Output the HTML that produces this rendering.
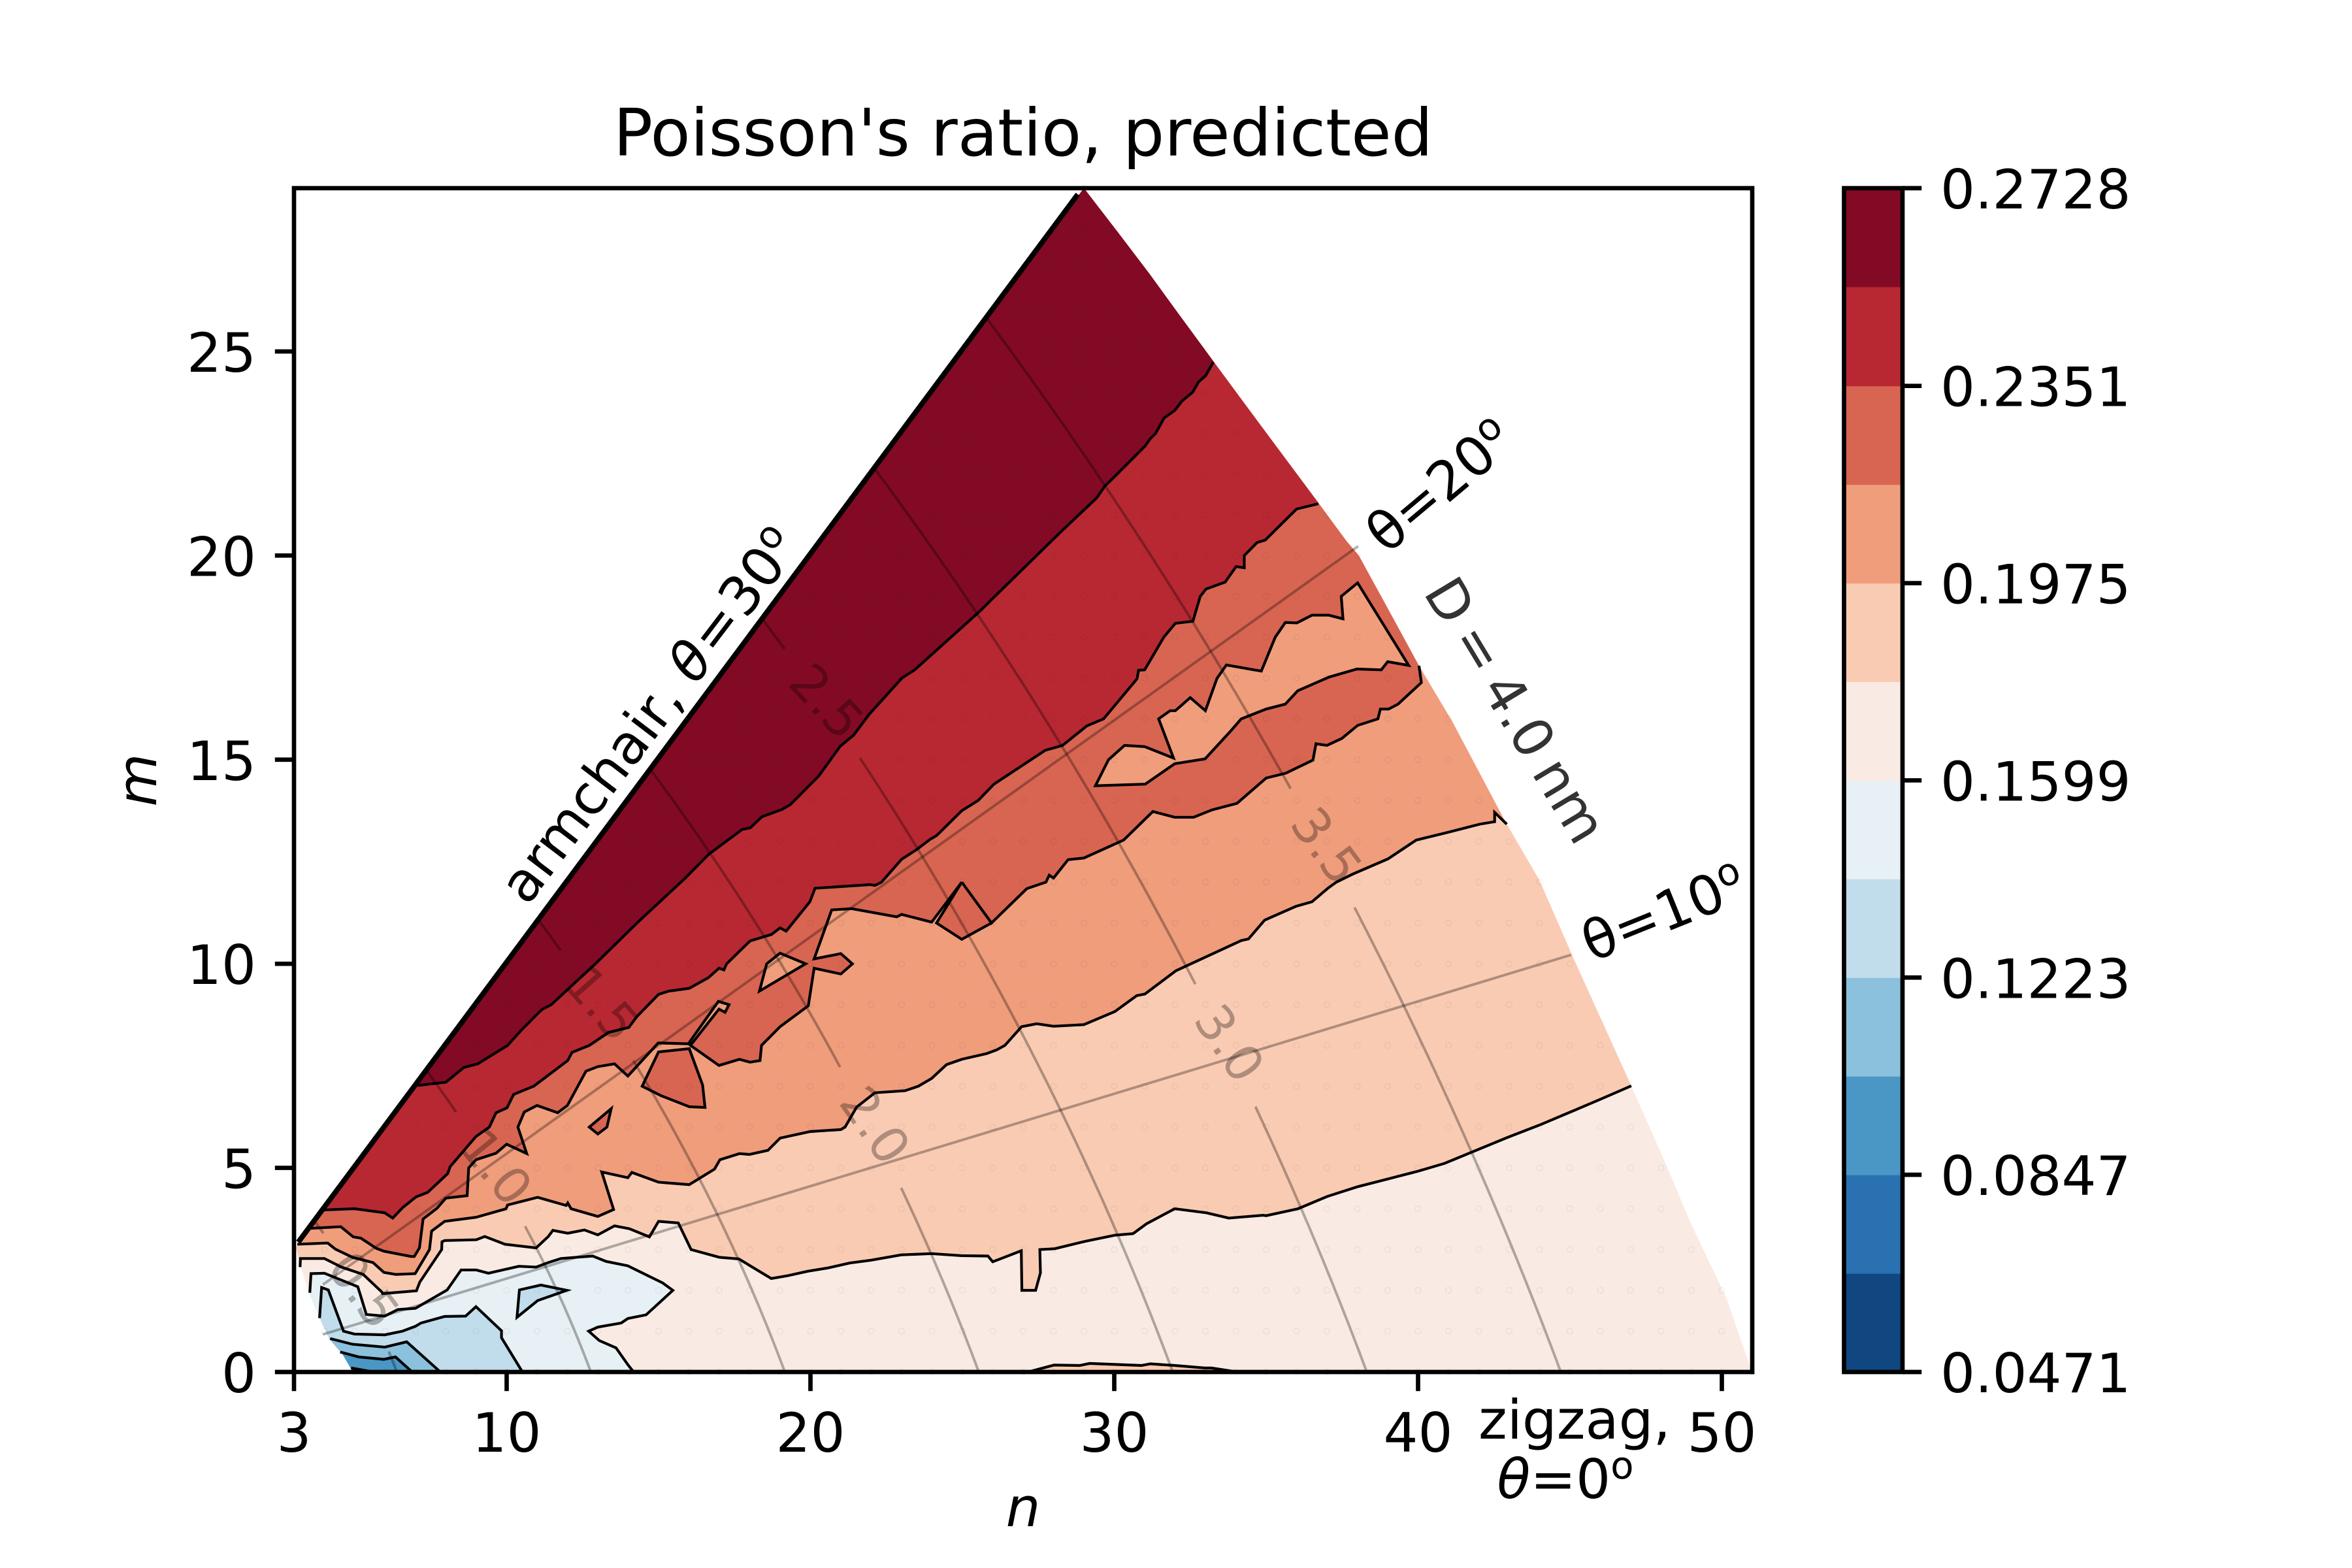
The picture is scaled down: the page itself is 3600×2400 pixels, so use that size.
<!DOCTYPE html>
<html lang="en">
<head>
<meta charset="utf-8">
<title>Poisson's ratio, predicted</title>
<style>
html,body{margin:0;padding:0;background:#fff;width:3600px;height:2400px;overflow:hidden}
svg{display:block}
text{font-family:"DejaVu Sans","Liberation Sans",sans-serif;font-size:83.33px;fill:#000}
</style>
</head>
<body>
<svg id="chart" xmlns="http://www.w3.org/2000/svg" width="3600" height="2400" viewBox="0 0 3600 2400">
<defs><clipPath id="domain-clip"><polygon id="domain-clip-shape"></polygon></clipPath></defs>
<g id="fills" clip-path="url(#domain-clip)"></g>
<g id="lines"></g>
<g id="grid"></g>
<g id="guides"></g>
<g id="axes"></g>
<g id="cbar"></g>
<text x="1566" y="238" text-anchor="middle" style="font-size:100px">Poisson's ratio, predicted</text>
<text x="1566" y="2336" text-anchor="middle" font-style="italic">n</text>
<text transform="translate(239 1194) rotate(-90)" text-anchor="middle" font-style="italic">m</text>
<text transform="translate(807 1388) rotate(-52.7)">armchair, <tspan font-style="italic">θ</tspan><tspan dx="3">=</tspan><tspan dx="3">30</tspan><tspan dy="-30" style="font-size:58px">o</tspan></text>
<text transform="translate(2122 850) rotate(-40)">θ=20<tspan dy="-30" style="font-size:58px">o</tspan></text>
<text transform="translate(2436 1473) rotate(-22)">θ=10<tspan dy="-30" style="font-size:58px">o</tspan></text>
<text transform="translate(2295 1102) rotate(59)" text-anchor="middle" fill-opacity="0.8" style="word-spacing:-8px">D = 4.0 nm</text>
<text x="2410" y="2202" text-anchor="middle">zigzag,</text>
<text x="2396" y="2293" text-anchor="middle"><tspan font-style="italic">θ</tspan>=0<tspan dy="-30" style="font-size:58px">o</tspan></text>
</svg>
<script>
// ---- axis ticks ----
const xTicks = [3, 10, 20, 30, 40, 50];
const yTicks = [0, 5, 10, 15, 20, 25];
const xLimits = [3, 51];
const yLimits = [0, 29];
// ---- colour bands (low to high) ----
const bandColors = ['#104780','#2a71b2','#4a97c5','#8bc1dc','#c1ddeb','#e7f0f4','#f9ebe3','#facbb3','#f09d7c','#d86551','#b82832','#830a25'];
const bandEdges = [0.0471,0.0659,0.0847,0.1035,0.1223,0.1411,0.1599,0.1787,0.1975,0.2163,0.2351,0.2540,0.2728];
const cbarTicks = [0.0471,0.0847,0.1223,0.1599,0.1975,0.2351,0.2728];
const cbarTickLabels = ['0.0471','0.0847','0.1223','0.1599','0.1975','0.2351','0.2728'];
// ---- domain outline, in (n, m) ----
const domainOuterEdge = [[29,29],[30.13,27.91],[31.18,26.88],[32.05,25.99],[33.26,24.76],[34.96,23.05],[36.6,21.41],[37.65,20.35],[38.05,20],[39.08,18.6],[40.03,17.3],[41.13,15.93],[42.86,13.5],[44,12.04],[45.15,10.08],[47.02,7.01],[48.06,5.26],[48.99,3.63],[50.15,1.81],[50.92,0.16],[51,0]];
const domainInnerEdge = [[4.94,0],[4.6,0.43],[4.16,0.81],[3.84,1.32],[3.48,1.96],[3.2,2.63],[3.07,3.05]];
const armchairEdge = [[3.14,3.18],[28.8,28.85]];
// ---- contours, in (n, m) ----
const contour1to2 = [[7.07,7.02],[8,7.1],[8.59,7.46],[9.05,7.55],[10.03,8],[10.45,8.35],[11.05,8.8],[11.16,8.88],[11.47,9],[12.92,10],[14.29,11],[15.88,12.1],[16.65,12.68],[17.75,13.29],[18.02,13.33],[18.4,13.6],[19.06,13.78],[19.34,13.9],[20.27,14.6],[20.98,15.33],[21.42,15.6],[21.92,16.1],[23.01,17],[23.43,17.2],[25.58,18.64],[25.96,18.92],[28.21,20.56],[29.42,21.41],[29.69,21.7],[30.02,21.94],[31.01,22.68],[31.18,22.86],[31.36,22.99],[31.64,23.37],[32,23.56],[32.22,23.78],[32.58,24],[32.77,24.25],[33.01,24.41],[33.26,24.74]];
const contour2to3 = [[4,3.97],[4.99,4],[5.98,3.9],[6.25,3.77],[6.58,4.03],[7.02,4.29],[7.4,4.4],[8.06,4.86],[8.14,5.03],[8.99,5.77],[9.43,6],[9.65,6.35],[10.01,6.47],[10.23,6.8],[10.89,7],[12.01,7.63],[12.15,7.83],[12.72,8],[13.36,8.32],[14.02,8.44],[14.29,8.71],[15,9.25],[15.33,9.33],[16.01,9.4],[16.64,9.66],[16.99,9.89],[17.15,9.85],[17.24,10],[18.01,10.56],[18.72,10.72],[19,10.88],[19.2,10.8],[19.98,11.52],[20.15,11.85],[21.96,11.94],[22.12,11.92],[22.34,12],[23,12.56],[23.5,12.8],[23.94,13.05],[24.15,13.14],[24.98,13.75],[25.52,14],[26.04,14.4],[27.73,15.23],[28.3,15.35],[29.1,15.83],[29.65,16],[30.75,16.98],[30.8,17.19],[31,17.2],[31.63,18],[32.01,18.34],[32.59,18.39],[32.83,19],[33.02,19.18],[33.65,19.35],[34.01,19.73],[34.28,19.7],[34.28,20],[34.7,20.32],[34.97,20.38],[36,21.14],[36.72,21.27]];
const contour3to4 = [[3.56,3.52],[4.54,3.56],[4.95,3.31],[5.2,3.28],[5.71,3.03],[5.96,2.96],[6.85,2.83],[6.96,2.83],[7.13,3.04],[7.25,3.75],[7.71,4.01],[8,4.26],[8.7,4.32],[8.75,5],[8.99,5.2],[9.65,5.36],[10,5.58],[10.66,5.35],[10.37,6],[10.58,6.37],[11,6.53],[11.68,6.35],[12,6.53],[12.61,7.37],[13,7.48],[13.55,7.55],[13.99,7.25],[14.99,8.06],[15.98,8.04],[16.97,9.08],[17.32,9],[17.19,8.81],[16.99,8.89],[16.05,8],[16.99,7.51],[17.66,7.66],[18.01,7.59],[18.34,7.63],[18.39,8],[19,8.46],[19.93,8.97],[20.12,9.89],[21,9.75],[21.38,10],[21,10.25],[20.12,10.12],[20.7,11.32],[21.36,11.35],[22.84,11.15],[23,11.21],[23.99,11.02],[24.98,12],[24.15,11],[24.98,10.6],[25.96,11],[24.98,12],[25.96,11],[27.12,11.84],[27.75,12],[27.86,12.17],[28,12.1],[28.48,12.55],[29,12.59],[30.31,13.03],[31.27,13.73],[31.99,13.59],[32.61,13.59],[33.22,13.77],[34.04,13.93],[35,14.55],[35.65,14.67],[36.54,14.99],[36.64,15.39],[37,15.35],[37.49,15.52],[38.01,15.84],[38.68,16],[38.76,16.24],[39.03,16.24],[39.34,16.36],[40.11,16.89],[40.03,17.3]];
const contour4to5 = [[3.11,3.13],[4.11,3.16],[4.36,3.01],[4.92,2.81],[5.6,2.68],[5.96,2.44],[6.35,2.39],[6.99,2.41],[7.46,3],[7.53,3.45],[7.96,3.69],[8.99,3.79],[9.94,3.99],[9.98,4],[10.03,4.09],[11.02,4.28],[11.96,4.08],[12.01,4.14],[12.12,4],[13,3.81],[13.52,3.98],[13.13,4.9],[13.99,4.76],[14.12,4.89],[15,4.65],[16.01,4.59],[16.84,4.97],[17.02,5.2],[17.66,5.35],[17.99,5.33],[18.6,5.43],[19,5.73],[19.99,5.89],[21,5.94],[21.14,6],[21.52,6.49],[22.12,6.84],[23.11,6.89],[23.55,7],[23.99,7.19],[24.48,7.53],[24.98,7.66],[25.8,7.8],[26.13,7.89],[26.4,8],[26.95,8.46],[27.45,8.53],[28,8.47],[29,8.51],[30.02,8.83],[30.74,9.22],[31.01,9.26],[32.03,9.83],[34.18,10.57],[34.42,10.61],[34.95,11.07],[35.99,11.41],[36.51,11.52],[37.03,11.85],[37.31,12],[37.86,12.2],[39.01,12.57],[39.94,13.03],[40.98,13.22],[42.03,13.42],[42.52,13.48],[42.52,13.71],[42.92,13.42]];
const contour5to6 = [[3.2,2.57],[3.21,2.78],[4,2.78],[4.56,2.57],[5.28,2.39],[5.89,1.96],[5.92,1.92],[7.03,1.99],[7.14,2.2],[7.86,3],[7.87,3.19],[7.96,3.22],[9,3.24],[9.28,3.32],[9.94,3.13],[10.97,3.04],[11.37,3.32],[11.52,3.47],[12.01,3.4],[12.56,3.48],[13,3.36],[13.55,3.58],[14.04,3.51],[14.7,3.31],[15,3.69],[15.65,3.65],[16.07,3],[17,2.81],[17.64,2.77],[18.71,2.29],[19.26,2.36],[19.92,2.47],[20.58,2.55],[21.29,2.67],[22,2.74],[22.99,2.87],[23.98,2.9],[24.97,2.85],[25.84,2.84],[26,2.7],[26.94,2.97],[26.96,2],[27.41,2],[27.57,2.43],[27.55,3],[28.04,3.02],[29.03,3.2],[30.01,3.35],[30.62,3.39],[31.06,3.63],[31.99,4],[33.03,3.9],[33.77,3.77],[34.9,3.84],[35,3.83],[36.05,4],[37.01,4.3],[38.02,4.54],[39.01,4.73],[40,4.92],[40.87,5.11],[41.75,5.38],[42.96,5.75],[44,6.05],[44.99,6.36],[46.03,6.69],[47.02,7.01]];
const contour6to7 = [[3.52,1.94],[3.56,2.41],[4,2.42],[5.1,2.09],[5.2,1.85],[5.38,1.41],[5.99,1.37],[6.42,1.53],[7,1.56],[8.04,2.01],[8.5,2.5],[9,2.5],[9.4,2.42],[10.4,2.59],[10.97,2.57],[11.37,2.68],[11.79,2.78],[12.83,2.84],[13.27,2.71],[13.99,2.6],[15.14,2.18],[15.47,2],[14.59,1.4],[13.99,1.31],[13.77,1.2],[13,1.1],[12.7,1],[13.05,0.77],[13.6,0.59],[13.99,0.18],[14.18,0]];
const contour7to8 = [[3.84,1.32],[3.91,2.07],[4.13,2.01],[4.63,1],[4.99,0.93],[5.99,0.91],[6.57,1],[7,1.12],[7.18,1.2],[7.96,1.36],[8.65,1.37],[8.99,1.6],[9.83,1.01],[9.83,0.84],[10.52,0]];
const contour8to9 = [[4.19,0.82],[4.92,0.68],[5.99,0.61],[6.71,0.74],[7.82,0]];
const contour9to10 = [[4.52,0.49],[5.13,0.37],[5.96,0.31],[6.34,0.37],[6.89,0]];
const contour10to11 = [[4.88,0.1],[5.63,0]];
// ---- closed islands, in (n, m) ----
const islandBottomBand5 = [[27.16,0],[28.02,0.17],[28.86,0.16],[29.19,0.21],[30.89,0.16],[31.19,0.2],[31.99,0.16],[32.98,0.1],[33.2,0.1],[34.07,0]];
const islandLeftBand3 = [[15,7.84],[16.01,7.92],[16.45,7.03],[16.53,6.48],[16.01,6.5],[15.08,6.77],[14.46,7]];
const islandTinyBand3 = [[13.44,6.45],[13.3,6],[13,5.83],[12.72,6]];
const islandHoleBand4 = [[19,10.26],[18.56,10],[18.32,9.33],[19.84,10]];
const islandFingerBand4 = [[39.69,17.31],[39,17.4],[38.79,17.2],[37.99,17.22],[37.06,17.02],[36.04,16.69],[35.63,16.36],[35,16.24],[34.18,16],[33.82,15.69],[32.99,15.02],[31.99,14.9],[31.02,14.4],[29.38,14.36],[29.81,15],[30.34,15.35],[31,15.32],[31.95,15.04],[31.46,16],[31.84,16.2],[32.01,16.2],[32.5,16.52],[33,16.2],[33.38,16.99],[33.69,17.32],[34.84,17.17],[35.3,18],[35.63,18.36],[36.01,18.35],[36.51,18.54],[37.06,18.54],[37.53,18.45],[37.47,19],[38.01,19.33]];
const islandBlueBand8 = [[10.42,2.01],[11.13,2.13],[11.98,2],[11.02,1.75],[10.34,1.34]];
// ---- nanotube grid rows: first and last n for each m = 0..29 ----
const gridFirstN = [5,4,4,4,4,5,6,7,8,9,10,11,12,13,14,15,16,17,18,19,20,21,22,23,24,25,26,27,28,29];
const gridLastN = [51,50,50,49,48,48,47,46,46,45,45,44,44,43,42,41,41,40,39,38,38,37,35,35,34,33,32,31,30,29];
// ---- guides ----
const diameters = [0.5,1,1.5,2,2.5,3,3.5];
const diameterLabels = ['0.5','1.0','1.5','2.0','2.5','3.0','3.5'];
const labelGapTopM = [3.4,6.37,10.33,7.47,17.71,9.5,14.29];
const labelGapBottomM = [0.5,3.57,7.63,4.51,15.04,6.5,11.38];
const thetaLine20 = [[3.95,2.14],[38.03,20.23]];
const thetaLine10 = [[3.95,0.92],[45.04,10.22]];
const latticeConstant = 0.246;

const SVGNS = 'http://www.w3.org/2000/svg';
const AX = {left:450,right:2682,top:288,bottom:2100};
const xAxis = n => AX.left + (n - xLimits[0]) / (xLimits[1] - xLimits[0]) * (AX.right - AX.left);
const yAxis = m => AX.bottom - (m - yLimits[0]) / (yLimits[1] - yLimits[0]) * (AX.bottom - AX.top);
const cbarY = v => AX.bottom - (v - bandEdges[0]) / (bandEdges[bandEdges.length-1] - bandEdges[0]) * (AX.bottom - AX.top);
const toPoints = pts => pts.map(p => xAxis(p[0]).toFixed(1) + ',' + yAxis(p[1]).toFixed(1)).join(' ');
function make(tag, parent, attrs){
  const el = document.createElementNS(SVGNS, tag);
  for (const k in attrs) el.setAttribute(k, attrs[k]);
  parent.appendChild(el);
  return el;
}
const fills = document.getElementById('fills');
const linesG = document.getElementById('lines');
const gridG = document.getElementById('grid');
const guidesG = document.getElementById('guides');
const axesG = document.getElementById('axes');
const cbarG = document.getElementById('cbar');

// domain
const domainPts = domainOuterEdge.concat(domainInnerEdge);
document.getElementById('domain-clip-shape').setAttribute('points', toPoints(domainPts));
const base = make('polygon', fills, {points: toPoints(domainPts), fill: bandColors[6]});



function bandAbove(pts, color){
  const first = pts[0];
  const closed = pts.concat([[60,40],[-5,40],[-5,first[1]]]);
  const el = make('polygon', fills, {points: toPoints(closed), fill: color});
  
  
}
function bandBelow(pts, color){
  const first = pts[0], last = pts[pts.length-1];
  const closed = pts.concat([[last[0],-1],[-5,-1],[-5,first[1]]]);
  const el = make('polygon', fills, {points: toPoints(closed), fill: color});
  
  
}
function island(pts, color){
  const el = make('polygon', fills, {points: toPoints(pts), fill: color});
  
  
}
function contourLine(pts, closed, width){
  const el = make(closed ? 'polygon' : 'polyline', linesG, {points: toPoints(pts), fill: 'none', stroke: '#000', 'stroke-width': width || 4.17, 'stroke-linejoin': 'miter', 'stroke-miterlimit': 6});
  
  
}
bandAbove(contour5to6, bandColors[7]);
island(islandBottomBand5, bandColors[7]);
bandAbove(contour4to5, bandColors[8]);
bandAbove(contour3to4, bandColors[9]);
bandAbove(contour2to3, bandColors[10]);
bandAbove(contour1to2, bandColors[11]);
bandBelow(contour6to7, bandColors[5]);
bandBelow(contour7to8, bandColors[4]);
bandBelow(contour8to9, bandColors[3]);
bandBelow(contour9to10, bandColors[2]);
bandBelow(contour10to11, bandColors[1]);
island(islandLeftBand3, bandColors[9]);
island(islandTinyBand3, bandColors[9]);
island(islandHoleBand4, bandColors[8]);
island(islandFingerBand4, bandColors[8]);
island(islandBlueBand8, bandColors[4]);

[contour1to2,contour2to3,contour3to4,contour4to5,contour5to6,contour6to7,contour7to8,contour8to9,contour9to10,contour10to11,islandBottomBand5].forEach(c => contourLine(c, false));
[islandLeftBand3,islandTinyBand3,islandHoleBand4,islandFingerBand4,islandBlueBand8].forEach(c => contourLine(c, true));
contourLine(armchairEdge, false, 8);

// grid points
gridFirstN.forEach((firstN, m) => {
  for (let n = firstN; n <= gridLastN[m]; n++) {
    const c = make('circle', gridG, {cx: xAxis(n).toFixed(1), cy: yAxis(m).toFixed(1), r: 4.4, fill: 'none', stroke: '#000', 'stroke-opacity': 0.07, 'stroke-width': 1.1});
    
    
  }
});

// constant-diameter guides
function diameterRadius(d){ return Math.PI * d / latticeConstant; }
function nOnDiameter(r, m){ return (-m + Math.sqrt(4*r*r - 3*m*m)) / 2; }
function diameterSegment(r, mFrom, mTo){
  const pts = [];
  const steps = 40;
  for (let i = 0; i <= steps; i++) {
    const m = mFrom + (mTo - mFrom) * i / steps;
    pts.push([nOnDiameter(r, m), m]);
  }
  return pts;
}
function guideLine(pts, name){
  const el = make('polyline', guidesG, {points: toPoints(pts), fill: 'none', stroke: '#000', 'stroke-opacity': 0.3, 'stroke-width': 4});
  
  
}
diameters.forEach((d, i) => {
  const r = diameterRadius(d);
  guideLine(diameterSegment(r, r / Math.sqrt(3), labelGapTopM[i]), 'diameter-line');
  guideLine(diameterSegment(r, labelGapBottomM[i], 0), 'diameter-line');
  const mTop = labelGapTopM[i], mBot = labelGapBottomM[i];
  const mMid = (mTop + mBot) / 2;
  const nMid = nOnDiameter(r, mMid);
  const dx = xAxis(nOnDiameter(r, mBot)) - xAxis(nOnDiameter(r, mTop));
  const dy = yAxis(mBot) - yAxis(mTop);
  const angle = Math.atan2(dy, dx) * 180 / Math.PI - 8;
  const t = make('text', guidesG, {transform: 'translate(' + (xAxis(nMid) + 6).toFixed(1) + ' ' + (yAxis(mMid) - 4).toFixed(1) + ') rotate(' + angle.toFixed(1) + ')', 'text-anchor': 'middle', y: 28, 'fill-opacity': 0.3, style: 'font-size:77px'});
  t.textContent = diameterLabels[i];
  
  
});
guideLine(thetaLine20, 'theta-20-line');
guideLine(thetaLine10, 'theta-10-line');

// axes
const spine = make('rect', axesG, {x: AX.left, y: AX.top, width: AX.right - AX.left, height: AX.bottom - AX.top, fill: 'none', stroke: '#000', 'stroke-width': 6.67});


xTicks.forEach(v => {
  const x = xAxis(v);
  const tick = make('line', axesG, {x1: x, x2: x, y1: AX.bottom, y2: AX.bottom + 29.2, stroke: '#000', 'stroke-width': 6.67});
  
  
  const lab = make('text', axesG, {x: x, y: 2222, 'text-anchor': 'middle'});
  lab.textContent = v;
  
  
});
yTicks.forEach(v => {
  const y = yAxis(v);
  const tick = make('line', axesG, {x1: AX.left - 29.2, x2: AX.left, y1: y, y2: y, stroke: '#000', 'stroke-width': 6.67});
  
  
  const lab = make('text', axesG, {x: 392, y: y + 31, 'text-anchor': 'end'});
  lab.textContent = v;
  
  
});

// colorbar
const CB = {left: 2822.5, right: 2912};
bandColors.forEach((color, i) => {
  const top = cbarY(bandEdges[i+1]), bot = cbarY(bandEdges[i]);
  const seg = make('rect', cbarG, {x: CB.left, y: top.toFixed(1), width: CB.right - CB.left, height: (bot - top + 0.6).toFixed(1), fill: color});
  
  
});
const cbFrame = make('rect', cbarG, {x: CB.left, y: AX.top, width: CB.right - CB.left, height: AX.bottom - AX.top, fill: 'none', stroke: '#000', 'stroke-width': 6.67});


cbarTicks.forEach((v, i) => {
  const y = cbarY(v);
  const tick = make('line', cbarG, {x1: CB.right, x2: CB.right + 29.2, y1: y, y2: y, stroke: '#000', 'stroke-width': 6.67});
  
  
  const lab = make('text', cbarG, {x: 2970, y: y + 31});
  lab.textContent = cbarTickLabels[i];
  
  
});
</script>
</body>
</html>
